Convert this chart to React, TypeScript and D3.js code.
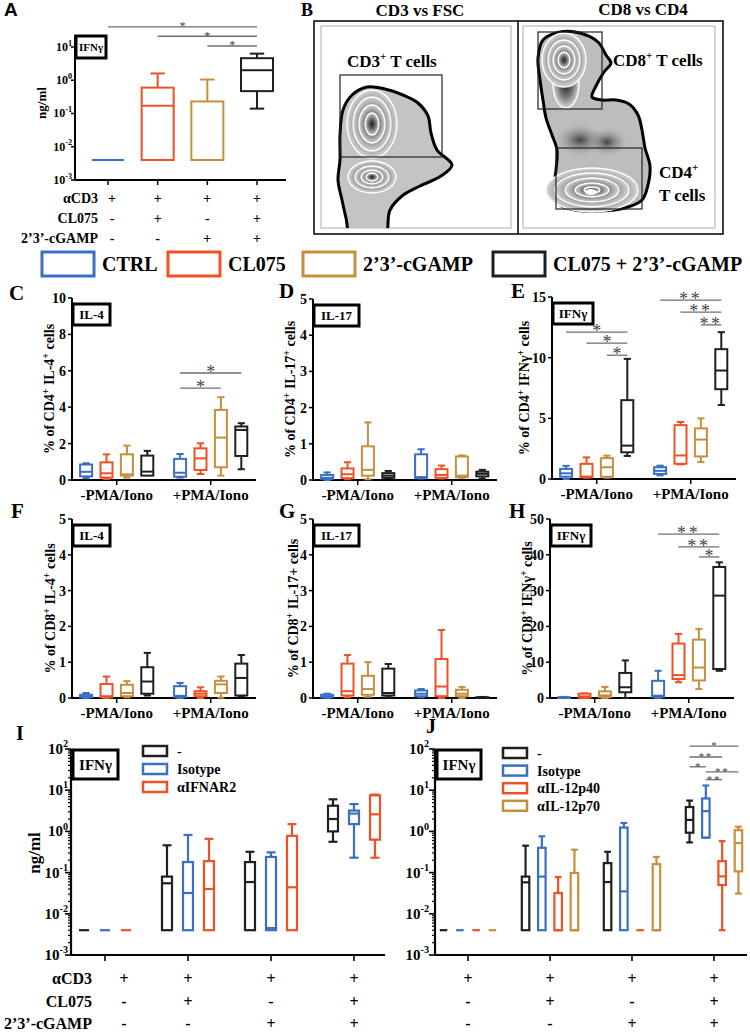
import React from 'react';
import * as d3 from 'd3';

const SERIF = '"Liberation Serif", "Times New Roman", "DejaVu Serif", serif';
const SANS = '"Liberation Sans", Arial, sans-serif';

// ---------- colours ----------
const C_CTRL = '#3a6fc3';
const C_CL = '#ef5127';
const C_CG = '#c68f3e';
const C_COMBO = '#1f1f1f';
const SIG_GREY = '#6e6e6e';
const SERIES_COLORS = [C_CTRL, C_CL, C_CG, C_COMBO];

// ---------- legend ----------
const LEGEND_LABELS = ['CTRL', 'CL075', '2\u20193\u2019-cGAMP', 'CL075 + 2\u20193\u2019-cGAMP'];
const IFNG = 'IFN\u03b3';

// ---------- treatment rows (A, I, J) ----------
const CONDITIONS = ['c1', 'c2', 'c3', 'c4'];
const ROW_LABELS = ['\u03b1CD3', 'CL075', '2\u20193\u2019-cGAMP'];
const ROW_MARKS = [
  ['+', '+', '+', '+'],
  ['-', '+', '-', '+'],
  ['-', '-', '+', '+'],
];

// ---------- Panel A: [min, q1, median, q3, max] ng/ml ----------
const A_STATS = [
  [0.004, 0.004, 0.004, 0.004, 0.004],
  [0.004, 0.004, 0.17, 0.6, 1.6],
  [0.004, 0.004, 0.004, 0.23, 1.05],
  [0.14, 0.47, 2.0, 4.6, 6.3],
];
const A_SIG = [
  { from: 0, to: 3, label: '*', v: 40 },
  { from: 1, to: 3, label: '*', v: 21 },
  { from: 2, to: 3, label: '*', v: 10.7 },
];

// ---------- Panels C-H ----------
const PMA_GROUPS = ['-PMA/Iono', '+PMA/Iono'];
const C_STATS = [
  [[0.1, 0.2, 0.45, 0.85, 0.92], [0.05, 0.13, 0.37, 0.97, 1.41], [0.13, 0.24, 0.31, 1.41, 1.89], [0.24, 0.24, 0.46, 1.34, 1.6]],
  [[0.13, 0.18, 0.4, 1.16, 1.43], [0.33, 0.55, 1.19, 1.74, 2.02], [0.24, 0.7, 2.33, 3.85, 4.55], [0.59, 1.32, 2.75, 2.94, 3.12]],
];
const D_STATS = [
  [[0, 0.03, 0.06, 0.14, 0.21], [0.02, 0.05, 0.16, 0.32, 0.49], [0.02, 0.12, 0.28, 0.93, 1.59], [0.05, 0.06, 0.12, 0.19, 0.25]],
  [[0.04, 0.06, 0.08, 0.71, 0.85], [0.04, 0.06, 0.14, 0.3, 0.4], [0.06, 0.08, 0.12, 0.65, 0.68], [0.04, 0.1, 0.17, 0.23, 0.28]],
];
const E_STATS = [
  [[0, 0.19, 0.47, 0.83, 1.08], [0.1, 0.14, 0.2, 1.25, 1.78], [0.1, 0.19, 0.97, 1.72, 1.92], [1.9, 2.2, 2.75, 6.5, 9.9]],
  [[0.3, 0.42, 0.67, 0.97, 1.1], [1.2, 1.25, 1.94, 4.44, 4.7], [1.39, 1.86, 3.25, 4.17, 5.0], [6.1, 7.4, 8.94, 10.7, 12.1]],
];
const F_STATS = [
  [[0, 0.02, 0.05, 0.09, 0.14], [0, 0.02, 0.05, 0.39, 0.6], [0.02, 0.05, 0.14, 0.37, 0.47], [0.07, 0.12, 0.46, 0.86, 1.26]],
  [[0, 0.03, 0.06, 0.33, 0.42], [0, 0.05, 0.12, 0.19, 0.3], [0.01, 0.14, 0.38, 0.48, 0.6], [0.04, 0.07, 0.56, 0.96, 1.2]],
];
const G_STATS = [
  [[0, 0.02, 0.05, 0.09, 0.12], [0.02, 0.07, 0.19, 0.96, 1.2], [0.03, 0.09, 0.25, 0.62, 1.0], [0.02, 0.07, 0.14, 0.82, 0.95]],
  [[0.02, 0.05, 0.12, 0.21, 0.25], [0, 0.05, 0.32, 1.09, 1.9], [0, 0.05, 0.12, 0.23, 0.31], [0, 0, 0.01, 0.02, 0.03]],
];
const H_STATS = [
  [[0, 0, 0.1, 0.2, 0.3], [0, 0.1, 0.45, 1.2, 1.3], [0, 0.28, 0.74, 1.86, 3.1], [0, 1.6, 3, 7, 10.5]],
  [[0, 0.3, 0.65, 4.8, 7.6], [4.4, 5.3, 6.4, 15.2, 17.9], [2.5, 4.9, 8.5, 16.3, 19.3], [7.6, 8.1, 28.6, 36.6, 37.9]],
];
const C_SIG = [
  { g: 1, from: 0, to: 3, label: '*', v: 5.88 },
  { g: 1, from: 0, to: 2, label: '*', v: 5.05 },
];
const E_SIG = [
  { g: 0, from: 0, to: 3, label: '*', v: 12.1 },
  { g: 0, from: 1, to: 3, label: '*', v: 11.2 },
  { g: 0, from: 2, to: 3, label: '*', v: 10.2 },
  { g: 1, from: 0, to: 3, label: '**', v: 14.75 },
  { g: 1, from: 1, to: 3, label: '**', v: 13.75 },
  { g: 1, from: 2, to: 3, label: '**', v: 12.7 },
];
const H_SIG = [
  { g: 1, from: 0, to: 3, label: '**', v: 45.8 },
  { g: 1, from: 1, to: 3, label: '**', v: 42.2 },
  { g: 1, from: 2, to: 3, label: '*', v: 39.4 },
];

// ---------- Panel I ----------
const I_SERIES = ['-', 'Isotype', '\u03b1IFNAR2'];
const I_COLORS = [C_COMBO, C_CTRL, C_CL];
const LOD = 0.004;
const I_STATS = [
  [[LOD, LOD, LOD, LOD, LOD], [LOD, LOD, LOD, LOD, LOD], [LOD, LOD, LOD, LOD, LOD]],
  [[LOD, LOD, 0.055, 0.08, 0.46], [LOD, LOD, 0.032, 0.18, 0.82], [LOD, LOD, 0.04, 0.19, 0.66]],
  [[LOD, LOD, 0.059, 0.18, 0.32], [LOD, LOD, 0.0045, 0.24, 0.31], [LOD, LOD, 0.044, 0.78, 1.5]],
  [[0.56, 1.0, 2.0, 4.2, 6.0], [0.23, 1.5, 2.7, 3.2, 4.6], [0.23, 0.63, 2.6, 7.5, 7.8]],
];

// ---------- Panel J ----------
const J_SERIES = ['-', 'Isotype', '\u03b1IL-12p40', '\u03b1IL-12p70'];
const J_COLORS = [C_COMBO, C_CTRL, C_CL, C_CG];
const J_STATS = [
  [[LOD, LOD, LOD, LOD, LOD], [LOD, LOD, LOD, LOD, LOD], [LOD, LOD, LOD, LOD, LOD], [LOD, LOD, LOD, LOD, LOD]],
  [[LOD, LOD, 0.058, 0.08, 0.45], [LOD, LOD, 0.08, 0.4, 0.76], [LOD, LOD, LOD, 0.032, 0.078], [LOD, LOD, LOD, 0.098, 0.36]],
  [[LOD, LOD, 0.059, 0.17, 0.32], [LOD, LOD, 0.035, 1.24, 1.6], [LOD, LOD, LOD, LOD, LOD], [LOD, LOD, LOD, 0.16, 0.24]],
  [[0.54, 0.93, 1.9, 3.9, 5.6], [0.7, 0.71, 3.1, 6.3, 13], [LOD, 0.05, 0.081, 0.19, 0.58], [0.031, 0.107, 0.52, 1.07, 1.3]],
];
const J_SIG = [
  { g: 3, from: 0, to: 3, label: '*', v: 118 },
  { g: 3, from: 0, to: 2, label: '**', v: 64 },
  { g: 3, from: 0, to: 1, label: '*', v: 37 },
  { g: 3, from: 1, to: 3, label: '**', v: 28 },
  { g: 3, from: 1, to: 2, label: '**', v: 18 },
];

// ---------- flow cytometry illustration shapes (panel B, decorative) ----------
const FLOW_LEFT = [[367, 87], [385, 89], [403, 95], [418, 103], [428, 116], [431, 133], [437, 150], [452, 165], [441, 176], [420, 186], [402, 196], [390, 210], [384, 240], [352, 240], [346, 218], [342, 200], [338, 180], [340, 160], [340, 135], [343, 110], [352, 95]];
const FLOW_RIGHT = [[560, 32], [580, 33], [598, 42], [606, 55], [611, 63], [604, 72], [596, 86], [592, 97], [602, 100], [616, 100], [629, 104], [638, 115], [642, 130], [645, 148], [650, 166], [648, 185], [642, 200], [625, 208], [600, 211], [575, 210], [560, 205], [554, 190], [556, 170], [557, 150], [552, 135], [546, 118], [543, 100], [540, 80], [538, 58], [543, 40]];
const LEFT_RINGS = [
  { cx: 372, cy: 124, rx: [25, 19, 13, 7], ry: [34, 27, 19, 11] },
  { cx: 372, cy: 177, rx: [24, 17, 11, 6], ry: [16, 11, 7, 4] },
];
const RIGHT_RINGS = [
  { cx: 564, cy: 60, rx: [22, 16, 11, 6], ry: [27, 20, 14, 8] },
  { cx: 592, cy: 190, rx: [46, 37, 27, 17, 8], ry: [22, 17, 12, 7, 3] },
];

// ================= helpers =================
function Box({ cx, w, s, y, color, sw = 2, capR = 0.5 }: any) {
  const [mn, q1, md, q3, mx] = s;
  if (mx - mn < 1e-9) {
    return <line x1={cx - w / 2} x2={cx + w / 2} y1={y(md)} y2={y(md)} stroke={color} strokeWidth={sw} />;
  }
  const cap = w * capR;
  return (
    <g stroke={color} strokeWidth={sw} fill="none">
      {mx > q3 && (
        <>
          <line x1={cx} x2={cx} y1={y(mx)} y2={y(q3)} />
          <line x1={cx - cap / 2} x2={cx + cap / 2} y1={y(mx)} y2={y(mx)} />
        </>
      )}
      {mn < q1 && (
        <>
          <line x1={cx} x2={cx} y1={y(q1)} y2={y(mn)} />
          <line x1={cx - cap / 2} x2={cx + cap / 2} y1={y(mn)} y2={y(mn)} />
        </>
      )}
      <rect x={cx - w / 2} y={y(q3)} width={w} height={Math.max(y(q1) - y(q3), 0.5)} fill="#fff" />
      <line x1={cx - w / 2} x2={cx + w / 2} y1={y(md)} y2={y(md)} />
    </g>
  );
}

function Sig({ x1, x2, yy, label, fs }: any) {
  return (
    <g>
      <line x1={x1} x2={x2} y1={yy} y2={yy} stroke={SIG_GREY} strokeWidth={1.3} />
      <text x={(x1 + x2) / 2} y={yy + fs * 0.28} textAnchor="middle" fontSize={fs} fill="#444" letterSpacing={label.length > 1 ? fs * 0.15 : 0}>
        {label}
      </text>
    </g>
  );
}

function CytoBox({ x, y, w, h, label, fs }: any) {
  return (
    <g>
      <rect x={x} y={y} width={w} height={h} fill="#fff" stroke="#000" strokeWidth={3} />
      <text x={x + w / 2} y={y + h / 2 + fs * 0.35} textAnchor="middle" fontSize={fs} fontWeight="bold">
        {label}
      </text>
    </g>
  );
}

function PowLabel({ x, y, exp, fs }: any) {
  return (
    <text x={x} y={y} textAnchor="end" fontSize={fs} fontWeight="bold">
      10<tspan dy={-fs * 0.45} fontSize={fs * 0.68}>{exp}</tspan>
    </text>
  );
}

function RotLabel({ x, y, parts, fs }: any) {
  let prevSup = false;
  return (
    <text transform={`translate(${x},${y}) rotate(-90)`} textAnchor="middle" fontSize={fs} fontWeight="bold">
      {parts.map((p: any, i: number) => {
        const [t, sup] = p;
        const dy = sup && !prevSup ? -fs * 0.38 : !sup && prevSup ? fs * 0.38 : 0;
        prevSup = sup;
        return (
          <tspan key={i} dy={dy} fontSize={sup ? fs * 0.7 : fs}>
            {t}
          </tspan>
        );
      })}
    </text>
  );
}

// ================= Panel A =================
function PanelA() {
  const x = d3.scalePoint().domain(CONDITIONS).range([108, 257]);
  const y = d3.scaleLog().domain([1e-3, Math.pow(10, 1.36)]).range([180, 35]);
  const decades = [-3, -2, -1, 0, 1];
  return (
    <g>
      <text x={4} y={16} fontFamily={SANS} fontWeight="bold" fontSize={19}>A</text>
      {A_SIG.map((s, i) => (
        <Sig key={i} x1={x(CONDITIONS[s.from])} x2={x(CONDITIONS[s.to])} yy={y(s.v)} label={s.label} fs={12} />
      ))}
      <line x1={75} x2={75} y1={35} y2={181} stroke="#000" strokeWidth={2} />
      <line x1={74} x2={286} y1={180} y2={180} stroke="#000" strokeWidth={2} />
      {decades.map((d) => (
        <g key={d}>
          <line x1={71} x2={75} y1={y(Math.pow(10, d))} y2={y(Math.pow(10, d))} stroke="#000" strokeWidth={1.5} />
          <PowLabel x={72} y={y(Math.pow(10, d)) + 4} exp={d < 0 ? `-${-d}` : `${d}`} fs={12} />
        </g>
      ))}
      {CONDITIONS.map((c) => (
        <line key={c} x1={x(c)} x2={x(c)} y1={180} y2={185} stroke="#000" strokeWidth={1.5} />
      ))}
      {A_STATS.map((s, i) => (
        <Box key={i} cx={x(CONDITIONS[i])} w={32} s={s} y={y} color={SERIES_COLORS[i]} sw={2} capR={0.45} />
      ))}
      <CytoBox x={76} y={36} w={30} h={22} label={IFNG} fs={11} />
      <RotLabel x={46} y={103} parts={[['ng/ml', false]]} fs={13} />
      {ROW_LABELS.map((lab, r) => (
        <g key={r} fontWeight="bold" fontSize={14}>
          <text x={98} y={203 + r * 20} textAnchor="end">{lab}</text>
          {ROW_MARKS[r].map((m, i) => (
            <text key={i} x={(x(CONDITIONS[i]) as number) + (i === 0 ? 4 : 0)} y={203 + r * 20} textAnchor="middle">{m}</text>
          ))}
        </g>
      ))}
    </g>
  );
}

// ================= Panel B =================
function PanelB() {
  const closed = d3.line().curve(d3.curveCatmullRomClosed.alpha(0.5));
  const rings = (set: any[], key: string) =>
    set.map((r, k) =>
      r.rx.map((rx: number, j: number) => (
        <ellipse key={`${key}${k}-${j}`} cx={r.cx} cy={r.cy} rx={rx} ry={r.ry[j]} fill="url(#zebra)" stroke="#fff" strokeWidth={1.3} />
      ))
    );
  return (
    <g>
      <defs>
        <radialGradient id="zebra" cx="50%" cy="50%" r="50%">
          <stop offset="0%" stopColor="#1e1e1e" />
          <stop offset="55%" stopColor="#777" />
          <stop offset="100%" stopColor="#d6d6d6" />
        </radialGradient>
        <radialGradient id="smudge" cx="50%" cy="50%" r="50%">
          <stop offset="0%" stopColor="#333" stopOpacity={0.9} />
          <stop offset="100%" stopColor="#999" stopOpacity={0} />
        </radialGradient>
        <clipPath id="leftClip"><rect x={321} y={26} width={190} height={202} /></clipPath>
        <clipPath id="rightClip"><rect x={523} y={26} width={192} height={202} /></clipPath>
      </defs>
      <text x={301} y={16} fontWeight="bold" fontSize={18}>B</text>
      <text x={420} y={16} textAnchor="middle" fontWeight="bold" fontSize={17}>CD3 vs FSC</text>
      <text x={643} y={15} textAnchor="middle" fontWeight="bold" fontSize={17}>CD8 vs CD4</text>
      <rect x={314} y={21} width={409} height={213} fill="#fff" stroke="#000" strokeWidth={1.5} />
      <line x1={518} x2={518} y1={21} y2={234} stroke="#000" strokeWidth={1.5} />
      <rect x={321} y={26} width={190} height={202} fill="none" stroke="#aaa" strokeWidth={1} />
      <rect x={523} y={26} width={192} height={202} fill="none" stroke="#aaa" strokeWidth={1} />
      <g clipPath="url(#leftClip)">
        <path d={closed(FLOW_LEFT as any) as string} fill="#c4c4c4" stroke="#000" strokeWidth={3} />
        {rings(LEFT_RINGS, 'l')}
      </g>
      <g clipPath="url(#rightClip)">
        <path d={closed(FLOW_RIGHT as any) as string} fill="#bdbdbd" stroke="#000" strokeWidth={3} />
        <ellipse cx={580} cy={140} rx={24} ry={16} fill="url(#smudge)" />
        <ellipse cx={607} cy={142} rx={20} ry={14} fill="url(#smudge)" />
        <ellipse cx={566} cy={84} rx={13} ry={24} fill="url(#zebra)" stroke="#fff" strokeWidth={1.3} />
        {rings(RIGHT_RINGS, 'r')}
        <ellipse cx={591} cy={192} rx={6} ry={3} fill="#fff" />
      </g>
      <rect x={340} y={75} width={102} height={82} fill="none" stroke="#222" strokeWidth={1.2} />
      <rect x={538} y={32} width={64} height={77} fill="none" stroke="#222" strokeWidth={1.2} />
      <rect x={556} y={148} width={86} height={61} fill="none" stroke="#222" strokeWidth={1.2} />
      <g fontWeight="bold" fontSize={17}>
        <text x={347} y={67}>CD3<tspan dy={-7} fontSize={11}>+</tspan><tspan dy={7}> T cells</tspan></text>
        <text x={613} y={66}>CD8<tspan dy={-7} fontSize={11}>+</tspan><tspan dy={7}> T cells</tspan></text>
        <text x={659} y={178}>CD4<tspan dy={-7} fontSize={11}>+</tspan></text>
        <text x={659} y={201}>T cells</text>
      </g>
    </g>
  );
}

// ================= legend =================
function Legend() {
  const boxX = [42, 168, 303, 493];
  return (
    <g>
      {LEGEND_LABELS.map((l, i) => (
        <g key={l}>
          <rect x={boxX[i]} y={252} width={52} height={24} fill="#fff" stroke={SERIES_COLORS[i]} strokeWidth={3} />
          <text x={boxX[i] + 60} y={271} fontWeight="bold" fontSize={20}>{l}</text>
        </g>
      ))}
    </g>
  );
}

// ================= linear panels C-H =================
const LIN_PANELS = [
  { letter: 'C', lx: 9, ly: 300, x0: 72, yTop: 298, yBot: 480, max: 10, step: 2, stats: C_STATS, sig: C_SIG, cyto: 'IL-4', cw: 37, labX: 54,
    label: [['% of CD4', false], ['+', true], [' IL-4', false], ['+', true], [' cells', false]] },
  { letter: 'D', lx: 279, ly: 298, x0: 313, yTop: 299, yBot: 480, max: 5, step: 1, stats: D_STATS, sig: [], cyto: 'IL-17', cw: 45, labX: 295,
    label: [['% of CD4', false], ['+', true], [' IL-17', false], ['+', true], [' cells', false]] },
  { letter: 'E', lx: 511, ly: 298, x0: 552, yTop: 297, yBot: 479, max: 15, step: 5, stats: E_STATS, sig: E_SIG, cyto: IFNG, cw: 40, labX: 529,
    label: [['% of CD4', false], ['+', true], [' ' + IFNG, false], ['+', true], [' cells', false]] },
  { letter: 'F', lx: 11, ly: 518, x0: 72, yTop: 519, yBot: 698, max: 5, step: 1, stats: F_STATS, sig: [], cyto: 'IL-4', cw: 37, labX: 55,
    label: [['% of CD8', false], ['+', true], [' IL-4', false], ['+', true], [' cells', false]] },
  { letter: 'G', lx: 279, ly: 518, x0: 313, yTop: 519, yBot: 698, max: 5, step: 1, stats: G_STATS, sig: [], cyto: 'IL-17', cw: 45, labX: 298,
    label: [['% of CD8', false], ['+', true], [' IL-17+ cells', false]] },
  { letter: 'H', lx: 509, ly: 518, x0: 550, yTop: 519, yBot: 698, max: 50, step: 10, stats: H_STATS, sig: H_SIG, cyto: IFNG, cw: 40, labX: 532,
    label: [['% of CD8', false], ['+', true], [' ' + IFNG, false], ['+', true], [' cells', false]] },
];

function LinPanel({ p }: any) {
  const y = d3.scaleLinear().domain([0, p.max]).range([p.yBot, p.yTop]);
  const gx = d3.scalePoint().domain(PMA_GROUPS).range([p.x0 + 44.7, p.x0 + 138.7]);
  const cx = (g: number, i: number) => (gx(PMA_GROUPS[g]) as number) + (i - 1.5) * 20.4;
  const ticks = d3.range(0, p.max + 1e-9, p.step);
  return (
    <g>
      <text x={p.lx} y={p.ly} fontWeight="bold" fontSize={21}>{p.letter}</text>
      <line x1={p.x0} x2={p.x0} y1={p.yTop} y2={p.yBot + 1} stroke="#000" strokeWidth={2} />
      <line x1={p.x0 - 1} x2={p.x0 + 184} y1={p.yBot} y2={p.yBot} stroke="#000" strokeWidth={2} />
      {ticks.map((t: number) => (
        <g key={t}>
          <line x1={p.x0 - 4} x2={p.x0} y1={y(t)} y2={y(t)} stroke="#000" strokeWidth={1.5} />
          <text x={p.x0 - 6} y={y(t) + 5} textAnchor="end" fontWeight="bold" fontSize={14}>{t}</text>
        </g>
      ))}
      {PMA_GROUPS.map((g) => (
        <g key={g}>
          <line x1={gx(g)} x2={gx(g)} y1={p.yBot} y2={p.yBot + 5} stroke="#000" strokeWidth={1.5} />
          <text x={gx(g)} y={p.yBot + 20} textAnchor="middle" fontWeight="bold" fontSize={15}>{g}</text>
        </g>
      ))}
      {p.stats.map((grp: any[], g: number) =>
        grp.map((s: any, i: number) => (
          <Box key={`${g}-${i}`} cx={cx(g, i)} w={12} s={s} y={y} color={SERIES_COLORS[i]} sw={2} capR={0.6} />
        ))
      )}
      {p.sig.map((s: any, k: number) => (
        <Sig key={k} x1={cx(s.g, s.from)} x2={cx(s.g, s.to)} yy={y(s.v)} label={s.label} fs={18} />
      ))}
      <CytoBox x={p.x0 + 1} y={p.yTop + 6} w={p.cw} h={21} label={p.cyto} fs={13} />
      <RotLabel x={p.labX} y={(p.yTop + p.yBot) / 2} parts={p.label} fs={14} />
    </g>
  );
}

// ================= log panels I, J =================
const LOG_PANELS = [
  { letter: 'I', lx: 16, ly: 740, x0: 71, x1: 385, tickR: 68, gx0: 105, gx1: 354, series: I_SERIES, colors: I_COLORS, stats: I_STATS,
    spacing: 21, bw: 10, legX: 143, legY: 751, legStep: 18, sig: [], rowLabels: true, firstMarkShift: 19, cytoX: 73, cytoW: 45 },
  { letter: 'J', lx: 426, ly: 733, x0: 435, x1: 747, tickR: 429, gx0: 468, gx1: 714, series: J_SERIES, colors: J_COLORS, stats: J_STATS,
    spacing: 16.3, bw: 7.5, legX: 503, legY: 753, legStep: 17.6, sig: J_SIG, rowLabels: false, firstMarkShift: 0, cytoX: 437, cytoW: 44 },
];

function LogPanel({ p }: any) {
  const yTop = 749, yBot = 955;
  const y = d3.scaleLog().domain([1e-3, 1e2]).range([yBot, yTop]);
  const gx = d3.scalePoint().domain(CONDITIONS).range([p.gx0, p.gx1]);
  const n = p.series.length;
  const cx = (g: number, i: number) => (gx(CONDITIONS[g]) as number) + (i - (n - 1) / 2) * p.spacing;
  const decades = [-3, -2, -1, 0, 1, 2];
  const minors: number[] = [];
  for (let d = -3; d < 2; d++) for (let m = 2; m < 10; m++) minors.push(m * Math.pow(10, d));
  return (
    <g>
      <text x={p.lx} y={p.ly} fontWeight="bold" fontSize={20}>{p.letter}</text>
      <line x1={p.x0} x2={p.x0} y1={yTop} y2={yBot + 1} stroke="#000" strokeWidth={2.2} />
      <line x1={p.x0 - 1} x2={p.x1} y1={yBot} y2={yBot} stroke="#000" strokeWidth={2.2} />
      {minors.map((m, k) => (
        <line key={k} x1={p.x0 - 3} x2={p.x0} y1={y(m)} y2={y(m)} stroke="#000" strokeWidth={1.2} />
      ))}
      {decades.map((d) => (
        <g key={d}>
          <line x1={p.x0 - 6} x2={p.x0} y1={y(Math.pow(10, d))} y2={y(Math.pow(10, d))} stroke="#000" strokeWidth={1.6} />
          <PowLabel x={p.tickR} y={y(Math.pow(10, d)) + 5} exp={d < 0 ? `-${-d}` : `${d}`} fs={15} />
        </g>
      ))}
      {CONDITIONS.map((c) => (
        <line key={c} x1={gx(c)} x2={gx(c)} y1={yBot} y2={yBot + 6} stroke="#000" strokeWidth={1.6} />
      ))}
      {p.stats.map((grp: any[], g: number) =>
        grp.map((s: any, i: number) => (
          <Box key={`${g}-${i}`} cx={cx(g, i)} w={p.bw} s={s} y={y} color={p.colors[i]} sw={2.2} capR={0.9} />
        ))
      )}
      {p.sig.map((s: any, k: number) => (
        <Sig key={k} x1={cx(s.g, s.from)} x2={cx(s.g, s.to)} yy={y(s.v)} label={s.label} fs={11} />
      ))}
      <CytoBox x={p.cytoX} y={750} w={p.cytoW} h={29} label={IFNG} fs={15} />
      {p.series.map((s: string, i: number) => (
        <g key={s}>
          <rect x={p.legX} y={p.legY + i * p.legStep - 5} width={24} height={10} fill="#fff" stroke={p.colors[i]} strokeWidth={2.5} />
          <text x={p.legX + 34} y={p.legY + i * p.legStep + 5} fontWeight="bold" fontSize={14}>{s}</text>
        </g>
      ))}
      {p.rowLabels && <RotLabel x={40} y={853} parts={[['ng/ml', false]]} fs={17} />}
      {ROW_MARKS.map((row, r) => (
        <g key={r} fontWeight="bold" fontSize={16}>
          {p.rowLabels && <text x={92} y={984 + r * 22.5} textAnchor="end">{ROW_LABELS[r]}</text>}
          {row.map((m, i) => (
            <text key={i} x={(gx(CONDITIONS[i]) as number) + (i === 0 ? p.firstMarkShift : 0)} y={984 + r * 22.5} textAnchor="middle">{m}</text>
          ))}
        </g>
      ))}
    </g>
  );
}

export default function App() {
  return (
    <svg width={750} height={1033} style={{ position: 'absolute', left: 0, top: 0, background: '#fff', fontFamily: SERIF }}>
      <rect x={0} y={0} width={750} height={1033} fill="#fff" />
      <PanelA />
      <PanelB />
      <Legend />
      {LIN_PANELS.map((p) => (
        <LinPanel key={p.letter} p={p} />
      ))}
      {LOG_PANELS.map((p) => (
        <LogPanel key={p.letter} p={p} />
      ))}
    </svg>
  );
}
